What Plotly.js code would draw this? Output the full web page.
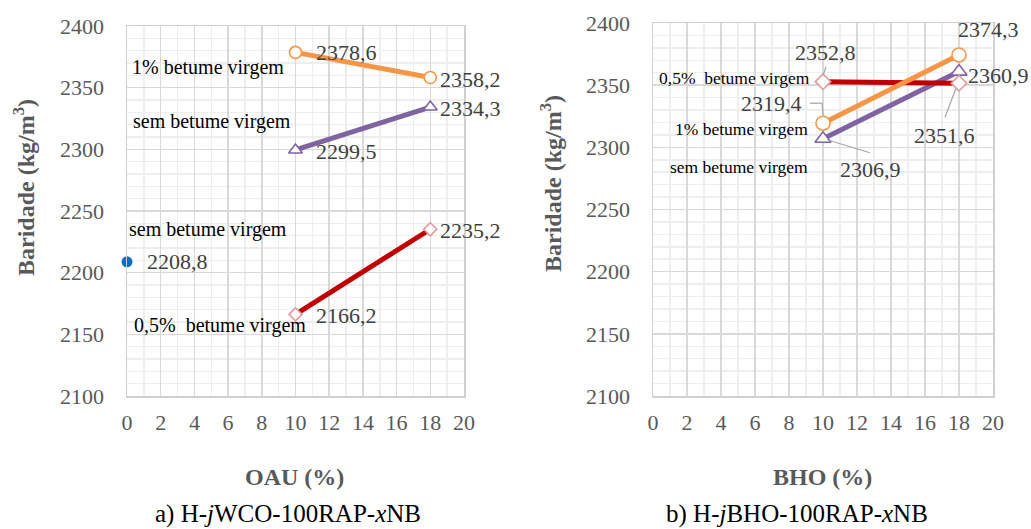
<!DOCTYPE html>
<html><head><meta charset="utf-8">
<script src="https://cdn.plot.ly/plotly-3.0.1.min.js"></script>
<style>html,body{margin:0;padding:0;background:#fff}#chart{width:1031px;height:529px}</style>
</head><body><div id="chart"></div>
<script>
// ---- data ----
const xPts = [10, 18];
const xRef = [0];
// a) H-jWCO-100RAP-xNB (OAU)
const a_sem  = [2299.5, 2334.3];
const a_05   = [2166.2, 2235.2];
const a_1    = [2378.6, 2358.2];
const a_ref  = [2208.8];
// b) H-jBHO-100RAP-xNB (BHO)
const b_sem  = [2306.9, 2360.9];
const b_05   = [2352.8, 2351.6];
const b_1    = [2319.4, 2374.3];

const seriesNames = ['sem betume virgem', '0,5%  betume virgem', '1% betume virgem'];
const xTicks = [0,2,4,6,8,10,12,14,16,18,20];
const yTicks = [2100,2150,2200,2250,2300,2350,2400];

const fmt = v => v.toFixed(1).replace('.', ',');

const C_OR = '#F79646', C_PU = '#8064A2', C_RE = '#C00000', C_BL = '#0070C0';
const serif = "Liberation Serif";

function lineTrace(y, color, sym, mcol, xa, ya, msize) {
  return {x: xPts, y: y, xaxis: xa, yaxis: ya, mode: 'lines+markers', type: 'scatter',
    line: {color: color, width: 5},
    marker: {symbol: sym, size: msize, color: '#ffffff', line: {color: mcol, width: 1.6}},
    showlegend: false, hoverinfo: 'skip', cliponaxis: false};
}

const traces = [
  lineTrace(a_05, C_RE, 'diamond', '#E39A9A', 'x', 'y', 10),
  lineTrace(a_sem, C_PU, 'triangle-up', C_PU, 'x', 'y', 12),
  lineTrace(a_1, C_OR, 'circle', C_OR, 'x', 'y', 12),
  {x: xRef, y: a_ref, xaxis: 'x', yaxis: 'y', mode: 'markers', type: 'scatter',
   marker: {color: C_BL, size: 11}, showlegend: false, hoverinfo: 'skip', cliponaxis: false},
  lineTrace(b_sem, C_PU, 'triangle-up', C_PU, 'x2', 'y2', 14),
  lineTrace(b_05, C_RE, 'diamond', '#E39A9A', 'x2', 'y2', 12),
  lineTrace(b_1, C_OR, 'circle', C_OR, 'x2', 'y2', 14),
];

function axX(domain, anchor) {
  return {domain: domain, anchor: anchor, range: [0, 20], tickvals: xTicks, ticks: '',
    showgrid: true, gridcolor: '#d9d9d9', gridwidth: 1.5, zeroline: false,
    showline: true, linecolor: '#d0d0d0', linewidth: 1.5, mirror: true,
    minor: {dtick: 1, showgrid: true, gridcolor: '#eeeeee', gridwidth: 1.5},
    tickfont: {family: serif, size: 22, color: '#595959'}, ticklabelstandoff: 6, fixedrange: true};
}
function axY(domain, anchor) {
  return {domain: domain, anchor: anchor, range: [2100, 2400], tickvals: yTicks, ticks: '',
    showgrid: true, gridcolor: '#d9d9d9', gridwidth: 1.5, zeroline: false,
    showline: true, linecolor: '#d0d0d0', linewidth: 1.5, mirror: true,
    minor: {dtick: 10, showgrid: true, gridcolor: '#eeeeee', gridwidth: 1.5},
    tickfont: {family: serif, size: 22, color: '#595959'}, ticklabelstandoff: 17, fixedrange: true};
}

const ann = [];
function lab(xa, ya, x, y, text, xanchor, xs, ys, size, color) {
  ann.push({xref: xa, yref: ya, x: x, y: y, text: text, showarrow: false,
    xanchor: xanchor, yanchor: 'middle', xshift: xs, yshift: ys,
    font: {family: serif, size: size, color: color}});
}
const DL = '#404040', SL = '#000000';
// data labels (a)
lab('x','y', xPts[0], a_1[0], fmt(a_1[0]), 'left', 18, 0, 22, DL);
lab('x','y', xPts[1], a_1[1], fmt(a_1[1]), 'left', 8, -2, 22, DL);
lab('x','y', xPts[1], a_sem[1], fmt(a_sem[1]), 'left', 8, -1, 22, DL);
lab('x','y', xPts[0], a_sem[0], fmt(a_sem[0]), 'left', 18, -2, 22, DL);
lab('x','y', xPts[1], a_05[1], fmt(a_05[1]), 'left', 8, -1, 22, DL);
lab('x','y', xRef[0], a_ref[0], fmt(a_ref[0]), 'left', 18, 0, 22, DL);
lab('x','y', xPts[0], a_05[0], fmt(a_05[0]), 'left', 18, -1, 22, DL);
// series labels (a)
lab('x','y', xPts[0], a_1[0], seriesNames[2], 'right', -10, -15, 20, SL);
lab('x','y', xPts[0], a_sem[0], seriesNames[0], 'right', -3, 28, 20, SL);
lab('x','y', xRef[0], a_ref[0], seriesNames[0], 'left', 0, 32, 20, SL);
lab('x','y', xPts[0], a_05[0], seriesNames[1], 'right', 12, -11, 20, SL);
// data labels (b)
lab('x2','y2', xPts[0], b_05[0], fmt(b_05[0]), 'center', 2, 29, 22, DL);
lab('x2','y2', xPts[1], b_05[1], fmt(b_05[1]), 'center', -15, -52, 22, DL);
lab('x2','y2', xPts[0], b_1[0], fmt(b_1[0]), 'right', -19, 20, 22, DL);
lab('x2','y2', xPts[1], b_1[1], fmt(b_1[1]), 'center', 29, 25, 22, DL);
lab('x2','y2', xPts[0], b_sem[0], fmt(b_sem[0]), 'left', 15, -31, 22, DL);
lab('x2','y2', xPts[1], b_sem[1], fmt(b_sem[1]), 'left', 7, -4, 22, DL);
// series labels (b)
lab('x2','y2', xPts[0], b_05[0], seriesNames[1], 'right', -11, 4, 17.5, SL);
lab('x2','y2', xPts[0], b_1[0], seriesNames[2], 'right', -13, -6, 17.5, SL);
lab('x2','y2', xPts[0], b_sem[0], seriesNames[0], 'right', -13, -28, 17.5, SL);

// axis titles and captions
const TT = '#595959';
ann.push({xref:'paper', yref:'paper', x: 294/1031, y: 1-477/529, text:'<b>OAU (%)</b>', showarrow:false,
  xanchor:'center', yanchor:'middle', font:{family:serif, size:24, color:TT}});
ann.push({xref:'paper', yref:'paper', x: 822/1031, y: 1-477/529, text:'<b>BHO (%)</b>', showarrow:false,
  xanchor:'center', yanchor:'middle', font:{family:serif, size:24, color:TT}});
ann.push({xref:'paper', yref:'paper', x: 24/1031, y: 1-188/529, text:'<b>Baridade (kg/m<sup>3</sup>)</b>', showarrow:false,
  textangle:-90, xanchor:'center', yanchor:'middle', font:{family:serif, size:24, color:TT}});
ann.push({xref:'paper', yref:'paper', x: 551/1031, y: 1-184/529, text:'<b>Baridade (kg/m<sup>3</sup>)</b>', showarrow:false,
  textangle:-90, xanchor:'center', yanchor:'middle', font:{family:serif, size:24, color:TT}});
ann.push({xref:'paper', yref:'paper', x: 288/1031, y: 0, yshift: 0, text:'a) H-<i>j</i>WCO-100RAP-<i>x</i>NB', showarrow:false,
  xanchor:'center', yanchor:'bottom', borderpad: 0, font:{family:serif, size:25, color:'#000'}});
ann.push({xref:'paper', yref:'paper', x: 797/1031, y: 0, yshift: 0, text:'b) H-<i>j</i>BHO-100RAP-<i>x</i>NB', showarrow:false,
  xanchor:'center', yanchor:'bottom', borderpad: 0, font:{family:serif, size:25, color:'#000'}});

// leader lines (pixel offsets anchored at data points)
const shapes = [];
function leader(x, y, px0, py0, px1, py1) {
  shapes.push({type:'line', xref:'x2', yref:'y2', xsizemode:'pixel', ysizemode:'pixel',
    xanchor: x, yanchor: y, x0: px0, y0: py0, x1: px1, y1: py1,
    line:{color:'#a6a6a6', width:1.2}});
}
leader(xPts[0], b_05[0], 3, 15, 0, 6);
leader(xPts[0], b_1[0], -13, 20, -1, 20);
leader(xPts[0], b_1[0], -1, 20, 0, 8);
leader(xPts[0], b_sem[0], 4, -1, 47, -14);
leader(xPts[1], b_05[1], -14, -34, -3, -5);

const layout = {
  width: 1031, height: 529, margin: {l:0, r:0, t:0, b:0},
  paper_bgcolor: '#ffffff', plot_bgcolor: '#ffffff', showlegend: false,
  xaxis: axX([127/1031, 464/1031], 'y'),
  yaxis: axY([1-396/529, 1-26/529], 'x'),
  xaxis2: axX([653/1031, 993/1031], 'y2'),
  yaxis2: axY([1-396/529, 1-23/529], 'x2'),
  annotations: ann, shapes: shapes
};
Plotly.newPlot('chart', traces, layout, {displayModeBar: false, staticPlot: true});
</script></body></html>
